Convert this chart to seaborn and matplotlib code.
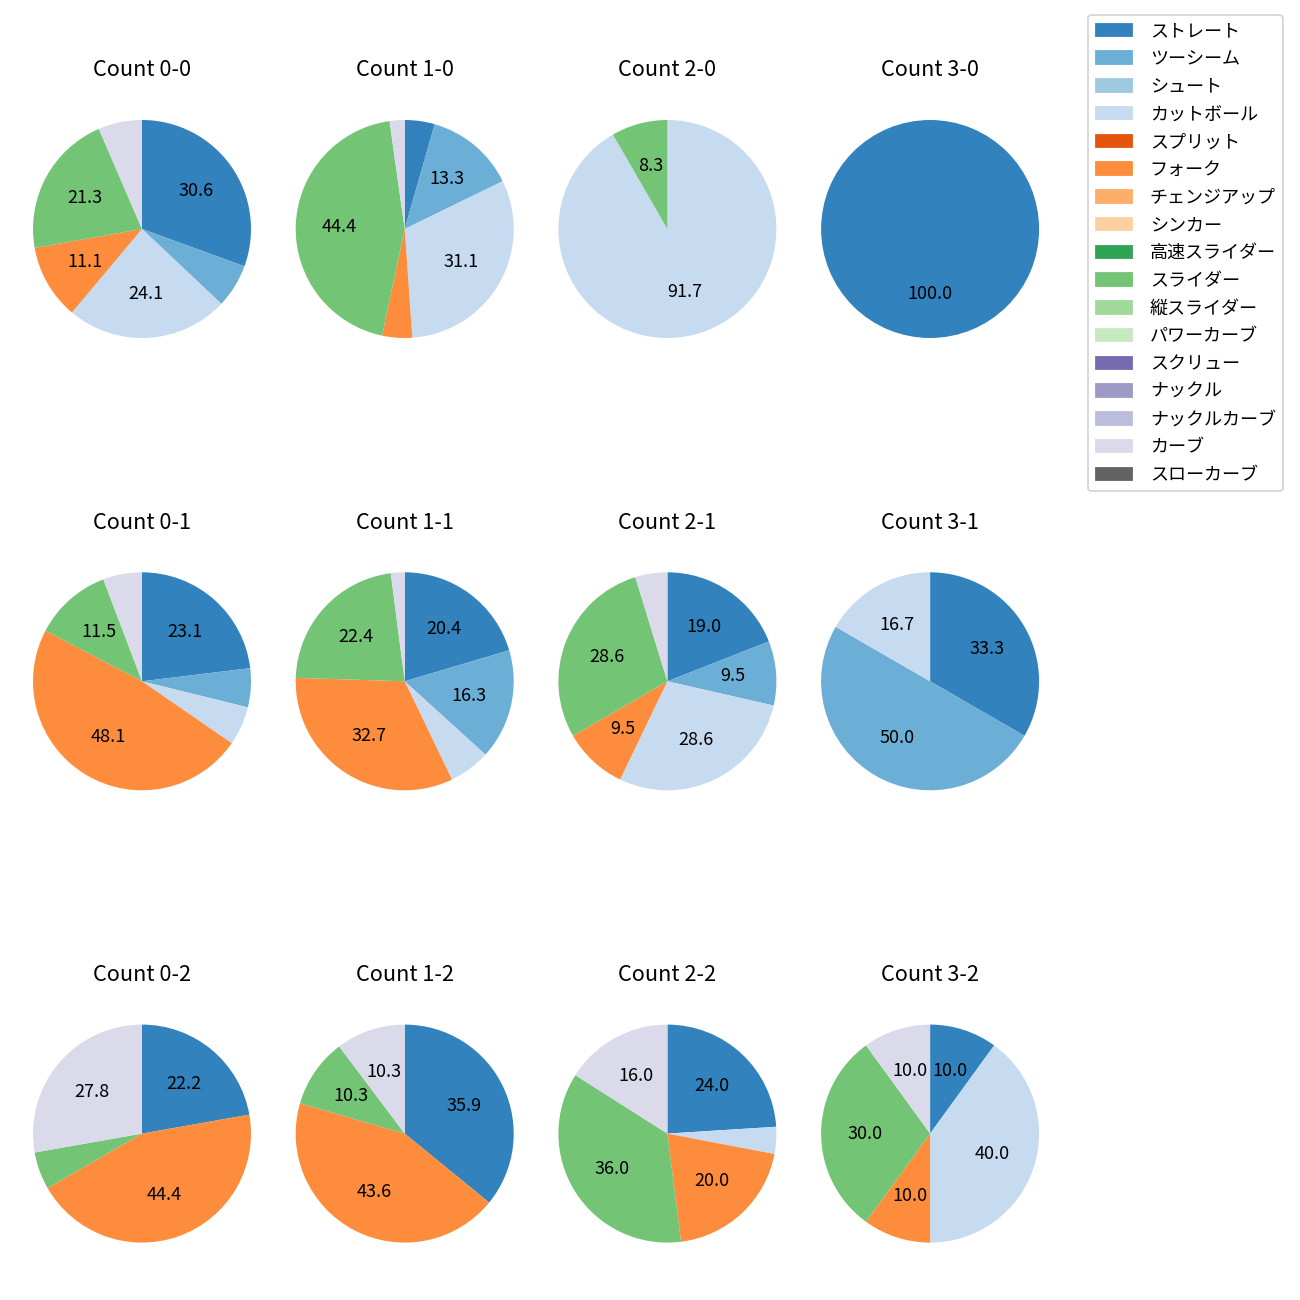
import matplotlib
matplotlib.use("Agg")
import matplotlib.pyplot as plt
from matplotlib.patches import Patch
import seaborn as sns

plt.rcParams["font.family"] = ["Noto Sans CJK JP", "DejaVu Sans"]

PITCHES = ["ストレート", "ツーシーム", "シュート", "カットボール", "スプリット", "フォーク",
           "チェンジアップ", "シンカー", "高速スライダー", "スライダー", "縦スライダー",
           "パワーカーブ", "スクリュー", "ナックル", "ナックルカーブ", "カーブ", "スローカーブ"]

# pitch counts per ball-strike count, in PITCHES order (zeros = not thrown)
c00 = [33, 7, 0, 26, 0, 12, 0, 0, 0, 23, 0, 0, 0, 0, 0, 7, 0]
c10 = [2, 6, 0, 14, 0, 2, 0, 0, 0, 20, 0, 0, 0, 0, 0, 1, 0]
c20 = [0, 0, 0, 11, 0, 0, 0, 0, 0, 1, 0, 0, 0, 0, 0, 0, 0]
c30 = [1, 0, 0, 0, 0, 0, 0, 0, 0, 0, 0, 0, 0, 0, 0, 0, 0]
c01 = [12, 3, 0, 3, 0, 25, 0, 0, 0, 6, 0, 0, 0, 0, 0, 3, 0]
c11 = [10, 8, 0, 3, 0, 16, 0, 0, 0, 11, 0, 0, 0, 0, 0, 1, 0]
c21 = [4, 2, 0, 6, 0, 2, 0, 0, 0, 6, 0, 0, 0, 0, 0, 1, 0]
c31 = [2, 3, 0, 1, 0, 0, 0, 0, 0, 0, 0, 0, 0, 0, 0, 0, 0]
c02 = [4, 0, 0, 0, 0, 8, 0, 0, 0, 1, 0, 0, 0, 0, 0, 5, 0]
c12 = [14, 0, 0, 0, 0, 17, 0, 0, 0, 4, 0, 0, 0, 0, 0, 4, 0]
c22 = [6, 0, 0, 1, 0, 5, 0, 0, 0, 9, 0, 0, 0, 0, 0, 4, 0]
c32 = [1, 0, 0, 4, 0, 1, 0, 0, 0, 3, 0, 0, 0, 0, 0, 1, 0]

TITLES = ["Count 0-0", "Count 1-0", "Count 2-0", "Count 3-0",
          "Count 0-1", "Count 1-1", "Count 2-1", "Count 3-1",
          "Count 0-2", "Count 1-2", "Count 2-2", "Count 3-2"]
PANELS = [c00, c10, c20, c30, c01, c11, c21, c31, c02, c12, c22, c32]

colors = sns.color_palette("tab20c", 20)[:len(PITCHES)]


def pct_label(pct):
    return f"{pct:.1f}" if pct >= 7 else ""


fig = plt.figure(figsize=(10, 10), dpi=130)
W = 1300
side = 272.5 / W
for i, (title, vals) in enumerate(zip(TITLES, PANELS)):
    r, c = divmod(i, 4)
    cx = (142 + 262.7 * c) / W
    cy = 1 - (229 + 452.3 * r) / W
    ax = fig.add_axes([cx - side / 2, cy - side / 2, side, side])
    idx = [k for k, v in enumerate(vals) if v > 0]
    ax.pie([vals[k] for k in idx], colors=[colors[k] for k in idx],
           startangle=90, counterclock=False, autopct=pct_label,
           wedgeprops={"linewidth": 0})
    ax.set_title(title, fontsize=12, pad=9)

handles = [Patch(color=colors[k], label=p) for k, p in enumerate(PITCHES)]
fig.legend(handles=handles, loc="upper right", fontsize=10,
           labelspacing=0.54, handletextpad=1.0,
           bbox_to_anchor=(1283 / W, 1 - 15 / W), borderaxespad=0)

fig.savefig("out.png", dpi=130)
